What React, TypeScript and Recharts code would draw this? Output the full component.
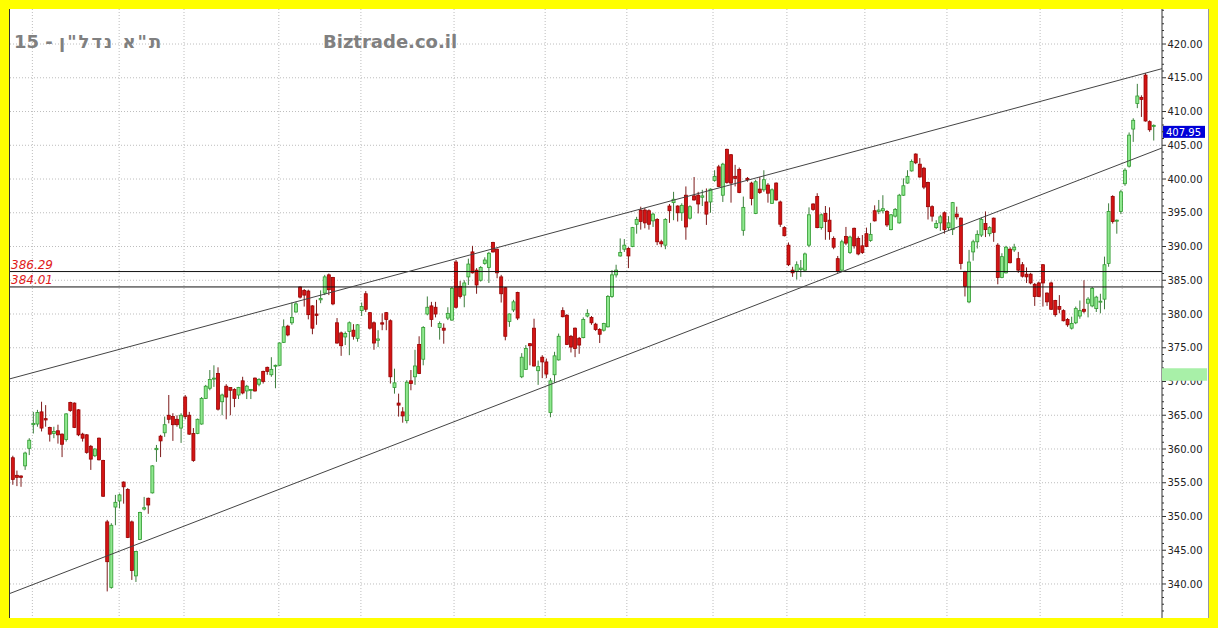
import { ComposedChart, Bar, XAxis, YAxis, CartesianGrid, ReferenceLine, ReferenceArea } from 'recharts';

// daily candles (oldest first)
const opens = [
  358.7, 356.1, 356.0, 357.5, 360.1, 363.6, 363.7, 365.5, 364.5, 363.2, 362.3, 362.7, 362.2, 361.4, 366.9, 366.8, 365.8, 362.2, 362.1, 360.4,
  359.0, 361.6, 358.3, 349.2, 339.5, 351.4, 352.3, 355.1, 354.0, 349.2, 341.2, 346.6, 351.1, 352.7, 353.5, 359.9, 361.9, 362.4, 365.0, 364.8,
  364.4, 363.1, 367.7, 365.0, 362.3, 362.3, 363.7, 367.5, 369.0, 370.4, 371.2, 367.0, 369.3, 369.1, 368.8, 368.0, 370.1, 368.6, 368.7, 370.5,
  369.6, 371.5, 372.1, 371.0, 372.3, 372.4, 375.8, 378.2, 378.7, 380.3, 384.0, 383.5, 383.4, 381.2, 380.0, 382.1, 383.1, 385.8, 385.4, 378.7,
  377.2, 376.6, 377.4, 377.6, 376.4, 380.5, 383.0, 380.2, 378.7, 376.1, 378.7, 380.2, 379.0, 369.1, 366.8, 365.5, 364.2, 370.1, 370.7, 375.5,
  373.3, 380.0, 381.2, 381.0, 378.0, 377.9, 379.4, 379.1, 387.7, 384.1, 382.8, 385.5, 389.2, 386.5, 385.0, 387.5, 386.9, 390.6, 389.6, 385.5,
  383.9, 378.9, 380.6, 383.2, 370.7, 371.8, 375.6, 377.9, 371.6, 373.6, 372.9, 365.4, 371.0, 373.2, 380.5, 379.8, 376.7, 377.9, 376.4, 376.5,
  379.7, 379.5, 378.5, 377.7, 377.6, 378.1, 382.6, 385.8, 388.6, 389.6, 389.7, 390.0, 393.3, 395.4, 395.4, 395.3, 393.8, 394.0, 390.7, 390.2,
  396.0, 396.5, 396.0, 395.0, 397.6, 394.2, 397.5, 397.6, 397.3, 396.6, 396.6, 399.8, 401.8, 397.6, 404.4, 403.6, 400.4, 401.4, 392.4, 400.1,
  399.4, 394.9, 398.5, 398.4, 399.1, 396.4, 399.4, 396.6, 392.8, 390.2, 386.5, 386.3, 386.6, 386.5, 390.2, 396.3, 397.4, 392.8, 394.9, 393.9,
  391.2, 388.2, 386.5, 391.5, 389.1, 392.7, 391.2, 390.1, 391.9, 390.9, 395.3, 395.2, 395.3, 395.2, 392.5, 394.5, 393.5, 397.6, 399.4, 401.2,
  403.7, 402.2, 401.6, 399.5, 395.9, 392.8, 393.5, 395.0, 392.8, 392.5, 394.8, 394.2, 386.3, 381.8, 389.2, 390.7, 391.7, 393.4, 391.9, 394.2,
  390.2, 385.4, 386.1, 389.6, 389.5, 388.2, 387.3, 385.9, 385.9, 384.4, 384.6, 387.3, 383.1, 384.6, 382.0, 381.1, 380.5, 379.2, 377.9, 378.7,
  379.7, 380.7, 381.6, 381.2, 380.8, 381.8, 382.2, 387.5, 397.4, 393.8, 395.2, 399.3, 401.9, 407.4, 411.2, 412.1, 415.4, 408.5, 407.8,
];
const highs = [
  359.0, 356.8, 356.1, 359.6, 361.6, 365.5, 365.8, 367.0, 366.5, 363.3, 363.3, 363.6, 362.3, 365.3, 367.0, 366.9, 365.9, 362.4, 362.2, 360.6,
  360.1, 361.7, 358.4, 349.5, 349.0, 353.2, 353.4, 355.2, 354.2, 349.4, 344.9, 350.7, 352.9, 352.8, 357.6, 360.6, 362.1, 364.8, 368.0, 365.3,
  365.0, 365.3, 368.0, 365.5, 363.1, 364.5, 367.7, 369.5, 371.7, 372.4, 372.1, 368.2, 369.6, 369.1, 369.0, 369.2, 370.7, 369.5, 368.9, 370.6,
  370.5, 371.6, 372.2, 373.6, 372.5, 375.8, 379.2, 378.4, 381.7, 381.8, 384.1, 383.7, 383.6, 381.3, 382.1, 383.5, 385.8, 386.0, 385.5, 379.4,
  377.4, 377.4, 378.9, 378.5, 378.5, 381.7, 383.4, 380.3, 378.9, 377.6, 380.1, 380.3, 379.2, 371.9, 368.2, 366.2, 370.2, 371.7, 374.7, 376.7,
  378.2, 382.6, 381.8, 381.8, 378.9, 378.6, 381.0, 384.0, 388.0, 384.9, 385.0, 388.2, 390.1, 386.8, 387.1, 388.4, 389.2, 390.7, 389.7, 385.8,
  384.0, 380.1, 382.1, 383.3, 374.2, 375.4, 375.7, 379.3, 373.1, 373.9, 373.4, 370.5, 374.4, 377.1, 381.0, 380.0, 376.9, 378.0, 376.6, 379.5,
  380.7, 379.7, 378.7, 377.9, 378.7, 382.8, 386.5, 387.3, 391.2, 391.1, 389.9, 392.9, 394.4, 395.9, 395.7, 395.5, 395.0, 394.2, 391.0, 394.2,
  396.3, 398.1, 396.1, 396.4, 398.9, 396.1, 400.3, 398.1, 398.4, 398.6, 398.6, 401.3, 402.1, 402.4, 404.5, 403.7, 402.1, 401.7, 397.4, 400.3,
  399.6, 399.9, 400.3, 401.3, 399.4, 398.6, 399.5, 396.8, 393.0, 390.6, 387.0, 387.8, 388.0, 389.1, 395.8, 396.4, 397.9, 394.9, 396.0, 395.8,
  391.5, 388.6, 391.0, 392.9, 391.6, 392.8, 391.5, 391.7, 392.8, 393.5, 396.1, 396.9, 397.6, 395.4, 394.8, 395.7, 397.8, 400.1, 401.3, 402.9,
  403.8, 403.1, 401.8, 399.6, 396.1, 393.9, 394.7, 395.2, 394.5, 396.6, 395.9, 394.3, 386.4, 389.5, 391.0, 392.4, 394.3, 395.2, 393.0, 394.3,
  390.5, 389.0, 390.1, 389.9, 390.4, 389.2, 387.7, 386.9, 386.1, 384.6, 384.8, 387.4, 383.2, 384.8, 382.1, 382.8, 380.7, 379.4, 379.6, 381.1,
  382.0, 385.0, 382.5, 384.0, 382.7, 383.0, 388.5, 396.4, 397.6, 394.0, 398.4, 401.6, 406.9, 409.0, 414.1, 412.4, 415.7, 408.7, 408.1,
];
const lows = [
  354.7, 354.5, 354.4, 356.9, 359.1, 362.3, 363.3, 362.6, 363.3, 361.1, 361.6, 360.8, 358.8, 361.1, 365.5, 363.1, 361.9, 361.1, 359.3, 356.9,
  358.8, 358.3, 352.9, 338.9, 339.3, 348.7, 351.2, 351.9, 346.8, 340.6, 340.3, 346.5, 350.9, 350.4, 353.4, 358.1, 358.8, 361.8, 363.8, 361.2,
  363.3, 360.9, 364.4, 362.1, 358.1, 362.2, 363.6, 367.4, 368.7, 369.2, 365.7, 365.0, 364.4, 365.0, 366.2, 367.4, 368.1, 367.4, 367.4, 368.5,
  369.3, 369.7, 371.0, 370.7, 369.0, 372.3, 375.7, 376.7, 378.4, 380.2, 382.3, 381.1, 379.2, 377.0, 378.4, 381.6, 382.8, 382.8, 381.3, 375.6,
  373.8, 375.4, 373.9, 376.2, 375.9, 379.7, 380.3, 377.7, 374.7, 375.1, 377.6, 377.6, 369.7, 368.2, 364.8, 363.9, 363.8, 368.7, 369.5, 371.1,
  372.4, 379.8, 378.1, 379.5, 376.2, 375.6, 379.1, 379.0, 380.8, 382.3, 381.0, 384.3, 386.0, 383.0, 384.8, 387.3, 384.6, 389.1, 385.3, 381.7,
  376.1, 378.1, 380.3, 379.1, 370.5, 371.7, 372.4, 372.2, 369.5, 370.5, 370.5, 364.7, 369.8, 373.1, 379.5, 375.4, 374.3, 373.6, 374.1, 376.4,
  379.5, 378.4, 377.5, 375.7, 377.4, 378.0, 382.4, 385.4, 388.5, 389.2, 386.8, 389.9, 391.9, 392.5, 392.7, 392.5, 392.9, 390.2, 389.9, 389.6,
  393.5, 393.9, 393.7, 393.8, 391.0, 394.0, 396.8, 394.9, 396.0, 393.2, 395.0, 399.6, 398.8, 396.6, 399.3, 396.5, 398.9, 397.9, 391.6, 399.6,
  396.1, 394.8, 397.8, 398.1, 396.5, 396.3, 396.8, 392.9, 391.5, 387.1, 385.5, 385.1, 385.5, 386.4, 389.9, 395.3, 392.7, 392.5, 391.0, 391.0,
  389.6, 386.1, 386.4, 390.2, 388.9, 389.7, 388.7, 388.9, 389.9, 390.7, 393.7, 394.8, 394.9, 392.9, 392.4, 394.3, 393.4, 397.5, 399.3, 401.1,
  402.2, 400.2, 398.5, 394.0, 393.7, 392.6, 392.3, 391.9, 392.4, 391.7, 394.0, 386.6, 382.6, 381.6, 387.9, 389.7, 391.4, 391.4, 391.5, 390.7,
  384.4, 385.3, 386.0, 387.5, 389.2, 386.1, 385.4, 384.6, 384.4, 381.2, 382.5, 381.1, 381.2, 380.6, 379.6, 380.1, 378.9, 378.1, 377.7, 378.5,
  379.3, 380.1, 379.5, 381.0, 380.3, 380.1, 380.7, 387.0, 393.4, 391.9, 394.8, 399.0, 401.7, 405.5, 410.5, 409.2, 408.5, 407.0, 405.7,
];
const closes = [
  355.5, 355.8, 355.8, 359.4, 361.3, 363.8, 365.4, 363.1, 364.3, 362.2, 362.6, 362.1, 360.7, 365.2, 365.7, 363.2, 362.1, 361.6, 359.5, 358.5,
  360.0, 358.4, 353.0, 343.3, 348.7, 352.1, 353.2, 354.4, 346.9, 342.0, 344.8, 350.6, 351.3, 351.7, 357.5, 360.1, 361.2, 363.6, 364.4, 363.6,
  363.6, 365.0, 364.8, 362.2, 358.3, 364.4, 367.5, 369.3, 370.3, 370.5, 365.9, 368.0, 367.7, 368.7, 367.5, 369.1, 368.3, 369.3, 368.8, 368.6,
  370.3, 370.0, 371.5, 371.8, 372.4, 375.7, 378.1, 376.9, 379.5, 381.5, 382.5, 382.8, 379.9, 377.9, 379.8, 382.3, 385.5, 383.6, 381.5, 375.7,
  375.3, 377.1, 378.7, 376.7, 378.4, 381.1, 380.7, 377.9, 375.7, 376.3, 378.5, 379.2, 370.7, 369.8, 366.5, 364.9, 369.9, 369.7, 372.3, 371.2,
  378.0, 381.0, 379.2, 380.0, 378.6, 377.6, 380.1, 383.8, 381.0, 382.6, 384.6, 387.4, 386.1, 384.3, 386.9, 388.0, 389.0, 389.2, 386.1, 383.0,
  376.7, 380.0, 381.8, 379.4, 373.6, 374.9, 375.3, 372.3, 372.2, 372.9, 371.1, 370.1, 373.8, 376.7, 379.6, 375.5, 375.1, 374.9, 375.4, 379.2,
  380.1, 378.7, 377.7, 377.0, 378.6, 382.6, 385.8, 386.5, 389.1, 390.2, 388.6, 392.8, 394.0, 393.7, 393.5, 393.3, 394.8, 390.7, 390.4, 394.0,
  395.3, 397.0, 395.0, 396.1, 392.9, 395.9, 396.9, 396.3, 397.5, 394.8, 398.5, 400.4, 398.9, 402.2, 399.5, 399.4, 400.1, 398.0, 395.8, 399.9,
  397.1, 399.6, 398.0, 399.9, 397.9, 398.4, 396.9, 393.3, 391.6, 387.3, 386.1, 387.3, 386.8, 388.9, 394.7, 395.5, 392.8, 394.7, 393.7, 392.2,
  389.9, 386.3, 390.7, 390.5, 391.4, 390.1, 388.9, 389.1, 390.0, 391.8, 393.8, 395.4, 395.6, 393.2, 394.7, 395.5, 397.6, 399.0, 400.4, 402.6,
  402.4, 400.3, 398.8, 395.9, 394.5, 393.4, 394.4, 392.5, 393.5, 396.5, 394.4, 387.5, 384.1, 387.7, 390.7, 391.8, 394.0, 392.5, 392.8, 392.1,
  385.4, 388.5, 389.9, 387.6, 389.9, 386.5, 385.6, 385.5, 384.6, 382.6, 382.6, 384.6, 381.8, 380.7, 379.9, 380.7, 379.0, 378.4, 378.6, 380.8,
  380.5, 380.4, 382.2, 383.8, 382.5, 381.9, 387.3, 395.2, 393.7, 393.9, 398.1, 401.3, 406.5, 408.7, 412.3, 411.8, 408.6, 407.3, 407.95,
];

// first trading day of each month (day index, grid lines)
const monthStarts = [4.75, 25.9, 41.7, 64.8, 84.8, 107.5, 129.7, 149.6, 170.6, 188.6, 207.6, 227.6, 250.3, 270.3];
const priceLabels = [340, 345, 350, 355, 360, 365, 370, 375, 380, 385, 390, 395, 400, 405, 410, 415, 420];
const levels = [386.29, 384.01];
const upperTrend = [{ x: -0.7, y: 370.4 }, { x: 280, y: 416.35 }];
const lowerTrend = [{ x: -0.7, y: 338.6 }, { x: 280, y: 404.6 }];
const lastPrice = 407.95;
const markBand = [370.1, 371.95];

const data = opens.map((o, i) => ({
  day: i,
  open: o,
  high: highs[i],
  low: lows[i],
  close: closes[i],
  range: [lows[i], highs[i]],
}));

const minorTicks: number[] = [];
for (let v = 336; v <= 425; v++) minorTicks.push(v);

const Candle = (props: any) => {
  const { x, y, width, height, payload } = props;
  if (!payload) return null;
  const { open, close, high, low } = payload;
  const top = height >= 0 ? y : y + height;
  const h = Math.abs(height);
  const k = h / Math.max(high - low, 0.0001);
  const cx = x + width / 2;
  const up = close >= open;
  const bTop = top + (high - Math.max(open, close)) * k;
  const bH = Math.max((Math.max(open, close) - Math.min(open, close)) * k, 1);
  return (
    <g>
      <line x1={cx} x2={cx} y1={top} y2={top + h} stroke={up ? '#3d7d3d' : '#7d1b1b'} strokeWidth={1} />
      <rect
        x={cx - 1.5}
        y={bTop}
        width={3}
        height={bH}
        fill={up ? '#8fe88f' : '#d41414'}
        stroke={up ? '#2f9a2f' : '#980000'}
        strokeWidth={0.8}
      />
    </g>
  );
};

const PriceTick = (props: any) => {
  const { x, y, payload } = props;
  const v = payload.value;
  const major = priceLabels.includes(v);
  return (
    <g>
      <line x1={x} x2={x + (major ? 4 : 2)} y1={y} y2={y} stroke="#333" strokeWidth={1} />
      {major && (
        <text x={x + 5.5} y={y + 3.6} fontSize={10} fontFamily="DejaVu Sans" fill="#222" textAnchor="start">
          {v.toFixed(2)}
        </text>
      )}
    </g>
  );
};

const LevelLabel = (text: string) => (props: any) => {
  const vb = props.viewBox || {};
  return (
    <text x={vb.x + 1} y={vb.y - 3} fontSize={12} fontStyle="italic" fontFamily="DejaVu Sans" fill="#e01a1a">
      {text}
    </text>
  );
};

const PriceTag = (props: any) => {
  const vb = props.viewBox || {};
  const left = vb.x + vb.width + 1;
  return (
    <g>
      <rect x={left} y={vb.y + 0.5} width={42} height={12} fill="#0000d8" />
      <text x={left + 3} y={vb.y + 10.2} fontSize={10} fontFamily="DejaVu Sans" fill="#ffffff">
        {lastPrice.toFixed(2)}
      </text>
    </g>
  );
};

const titleStyle = {
  position: 'absolute' as const,
  top: 23,
  fontFamily: 'DejaVu Sans',
  fontWeight: 'bold' as const,
  fontSize: 18,
  lineHeight: '20px',
  color: '#808080',
  whiteSpace: 'nowrap' as const,
};

export default function App() {
  return (
    <div style={{ position: 'absolute', left: 0, top: 0, width: 1218, height: 628, background: '#ffff00' }}>
      <div
        style={{
          position: 'absolute',
          left: 9,
          top: 9,
          width: 1198,
          height: 609,
          background: '#ffffff',
          borderLeft: '1px solid #333',
          borderRight: '1px solid #999',
        }}
      >
        <ComposedChart width={1198} height={609} data={data} margin={{ top: 0, right: 0, bottom: 0, left: 0 }}>
          <CartesianGrid
            stroke="#bdbdbd"
            strokeDasharray="1 2"
            horizontalValues={priceLabels}
            verticalValues={monthStarts}
          />
          <XAxis dataKey="day" type="number" domain={[-0.7, 280]} allowDataOverflow hide />
          <YAxis
            orientation="right"
            type="number"
            domain={[334.96, 425.19]}
            allowDataOverflow
            ticks={minorTicks}
            interval={0}
            tick={<PriceTick />}
            tickLine={false}
            tickSize={0}
            tickMargin={0}
            axisLine={{ stroke: '#333' }}
            width={46}
          />
          {levels.map((lv) => (
            <ReferenceLine key={lv} y={lv} stroke="#111" strokeWidth={1} label={LevelLabel(lv.toFixed(2))} />
          ))}
          <ReferenceLine segment={upperTrend} stroke="#444" strokeWidth={1} />
          <ReferenceLine segment={lowerTrend} stroke="#444" strokeWidth={1} />
          <Bar dataKey="range" barSize={4} shape={<Candle />} isAnimationActive={false} />
          <ReferenceLine y={lastPrice} stroke="none" label={<PriceTag />} />
          <ReferenceArea
            x1={280}
            x2={291}
            y1={markBand[0]}
            y2={markBand[1]}
            ifOverflow="visible"
            fill="#a8f0a8"
            fillOpacity={1}
            stroke="none"
            zIndex={2000}
          />
        </ComposedChart>
        <div style={{ ...titleStyle, left: 4 }}>
          15 - <span style={{ letterSpacing: 2 }}>ת"א נדל"ן</span>
        </div>
        <div style={{ ...titleStyle, left: 313 }}>Biztrade.co.il</div>
      </div>
    </div>
  );
}
